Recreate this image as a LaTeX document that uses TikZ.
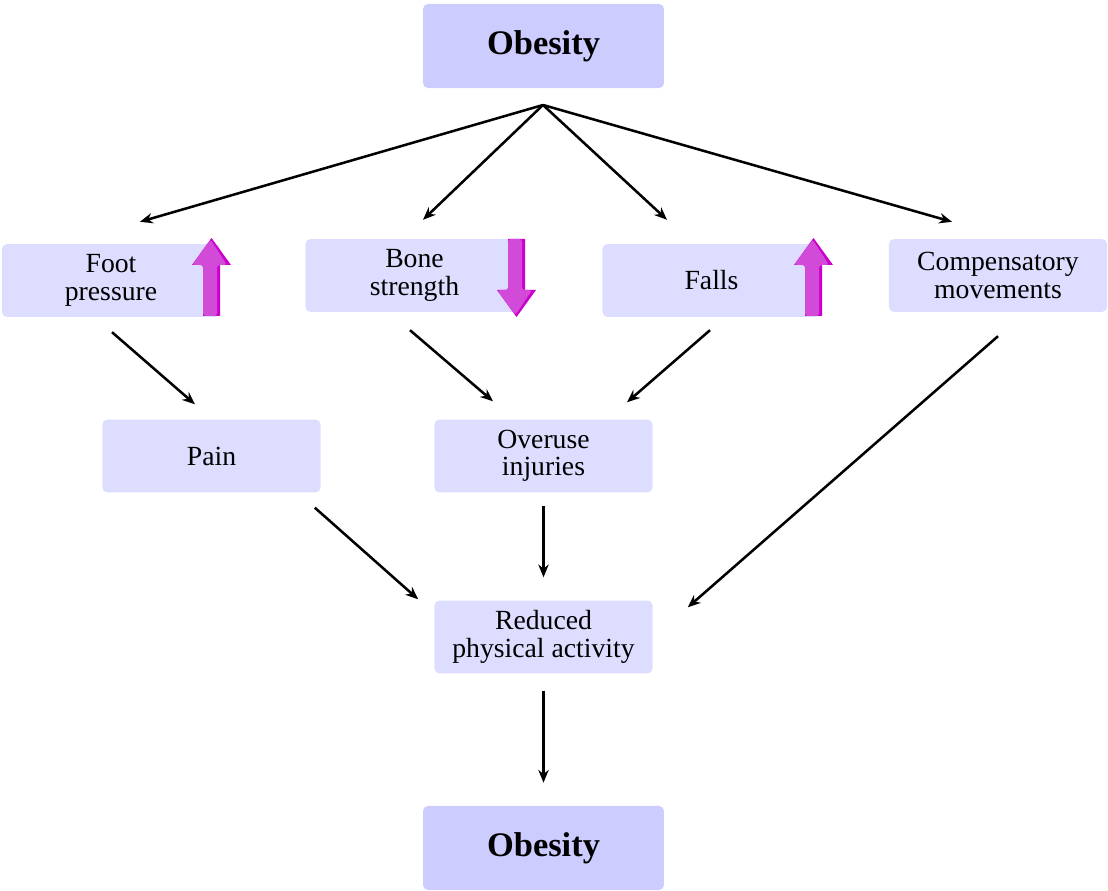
\documentclass[tikz,border=0pt]{standalone}
\usepackage{fontspec}
\setmainfont{Liberation Serif}
\usetikzlibrary{arrows.meta}
\definecolor{boxlight}{RGB}{221,221,255}
\definecolor{boxdark}{RGB}{204,204,255}
\definecolor{magdark}{RGB}{204,0,204}
\definecolor{maglight}{RGB}{210,74,216}

\begin{document}
\begin{tikzpicture}[x=0.025cm,y=-0.025cm,
    box/.style={fill=boxlight,rounded corners=3.5pt,minimum width=5.45cm,minimum height=1.82cm,
        inner sep=0pt,align=center,font=\fontsize{19.7}{19.5}\selectfont},
    main/.style={box,fill=boxdark,minimum width=6.02cm,minimum height=2.1cm,
        font=\fontsize{24.5}{26}\selectfont\bfseries},
    link/.style={-{Stealth[length=0.32cm,width=0.26cm]},line width=1.8pt}]
    \useasboundingbox (0,0) rectangle (1108,891);
    % boxes
    \node[main] (top) at (543.5,46) {Obesity};
    \node[box] (foot) at (111,280.5) {Foot\\pressure};
    \node[box] (bone) at (414.5,275.5) {Bone\\strength};
    \node[box] (falls) at (711.5,280.5) {Falls};
    \node[box] (comp) at (998,275.5) {Compensatory\\movements};
    \node[box] (pain) at (211.5,456) {Pain};
    \node[box] (over) at (543.5,456) {Overuse\\injuries};
    \node[box] (red) at (543.5,637) {Reduced\\physical activity};
    \node[main] (bottom) at (543.5,848) {Obesity};
    % up and down markers
    \foreach \cx in {211.5,813.5}{
        \fill[magdark] (\cx-8.5,316) -- (\cx-8.5,265) -- (\cx-19.5,265) -- (\cx,238)
            -- (\cx+19.5,265) -- (\cx+8.5,265) -- (\cx+8.5,316) -- cycle;
        \fill[maglight,rounded corners=2pt] (\cx-8.5,316) -- (\cx-8.5,265) -- (\cx-19.5,265) -- (\cx-1,239.5)
            -- (\cx+15.5,265) -- (\cx+5.5,265) -- (\cx+5.5,316) -- cycle;
    }
    \fill[magdark] (508,239) -- (508,290) -- (497,290) -- (516.5,317)
        -- (536,290) -- (525,290) -- (525,239) -- cycle;
    \fill[maglight,rounded corners=2pt] (508,239) -- (508,290) -- (497,290) -- (515.5,315)
        -- (532,290) -- (522,290) -- (522,239) -- cycle;
    % connectors
    \coordinate (apex) at (543,105);
    \draw[link] (apex) -- ([shift={(29,-22)}]foot.north);
    \draw[link] (apex) -- ([shift={(8.5,-19)}]bone.north);
    \draw[link] (apex) -- ([shift={(-44.5,-24)}]falls.north);
    \draw[link] (apex) -- ([shift={(-46,-17)}]comp.north);
    \draw[link] ([shift={(1,15)}]foot.south) -- ([shift={(-16.5,-15)}]pain.north);
    \draw[link] ([shift={(-4.5,18)}]bone.south) -- ([shift={(-50.5,-18)}]over.north);
    \draw[link] ([shift={(-1.5,13)}]falls.south) -- ([shift={(83.5,-17)}]over.north);
    \draw[link] ([shift={(0,24)}]comp.south) -- ([shift={(35,7)}]red.north east);
    \draw[link] ([shift={(-6,15)}]pain.south east) -- ([shift={(-16,-1)}]red.north west);
    \draw[link] ([shift={(0,13)}]over.south) -- ([shift={(0,-23)}]red.north);
    \draw[link] ([shift={(0,17)}]red.south) -- ([shift={(0,-23)}]bottom.north);
\end{tikzpicture}
\end{document}
